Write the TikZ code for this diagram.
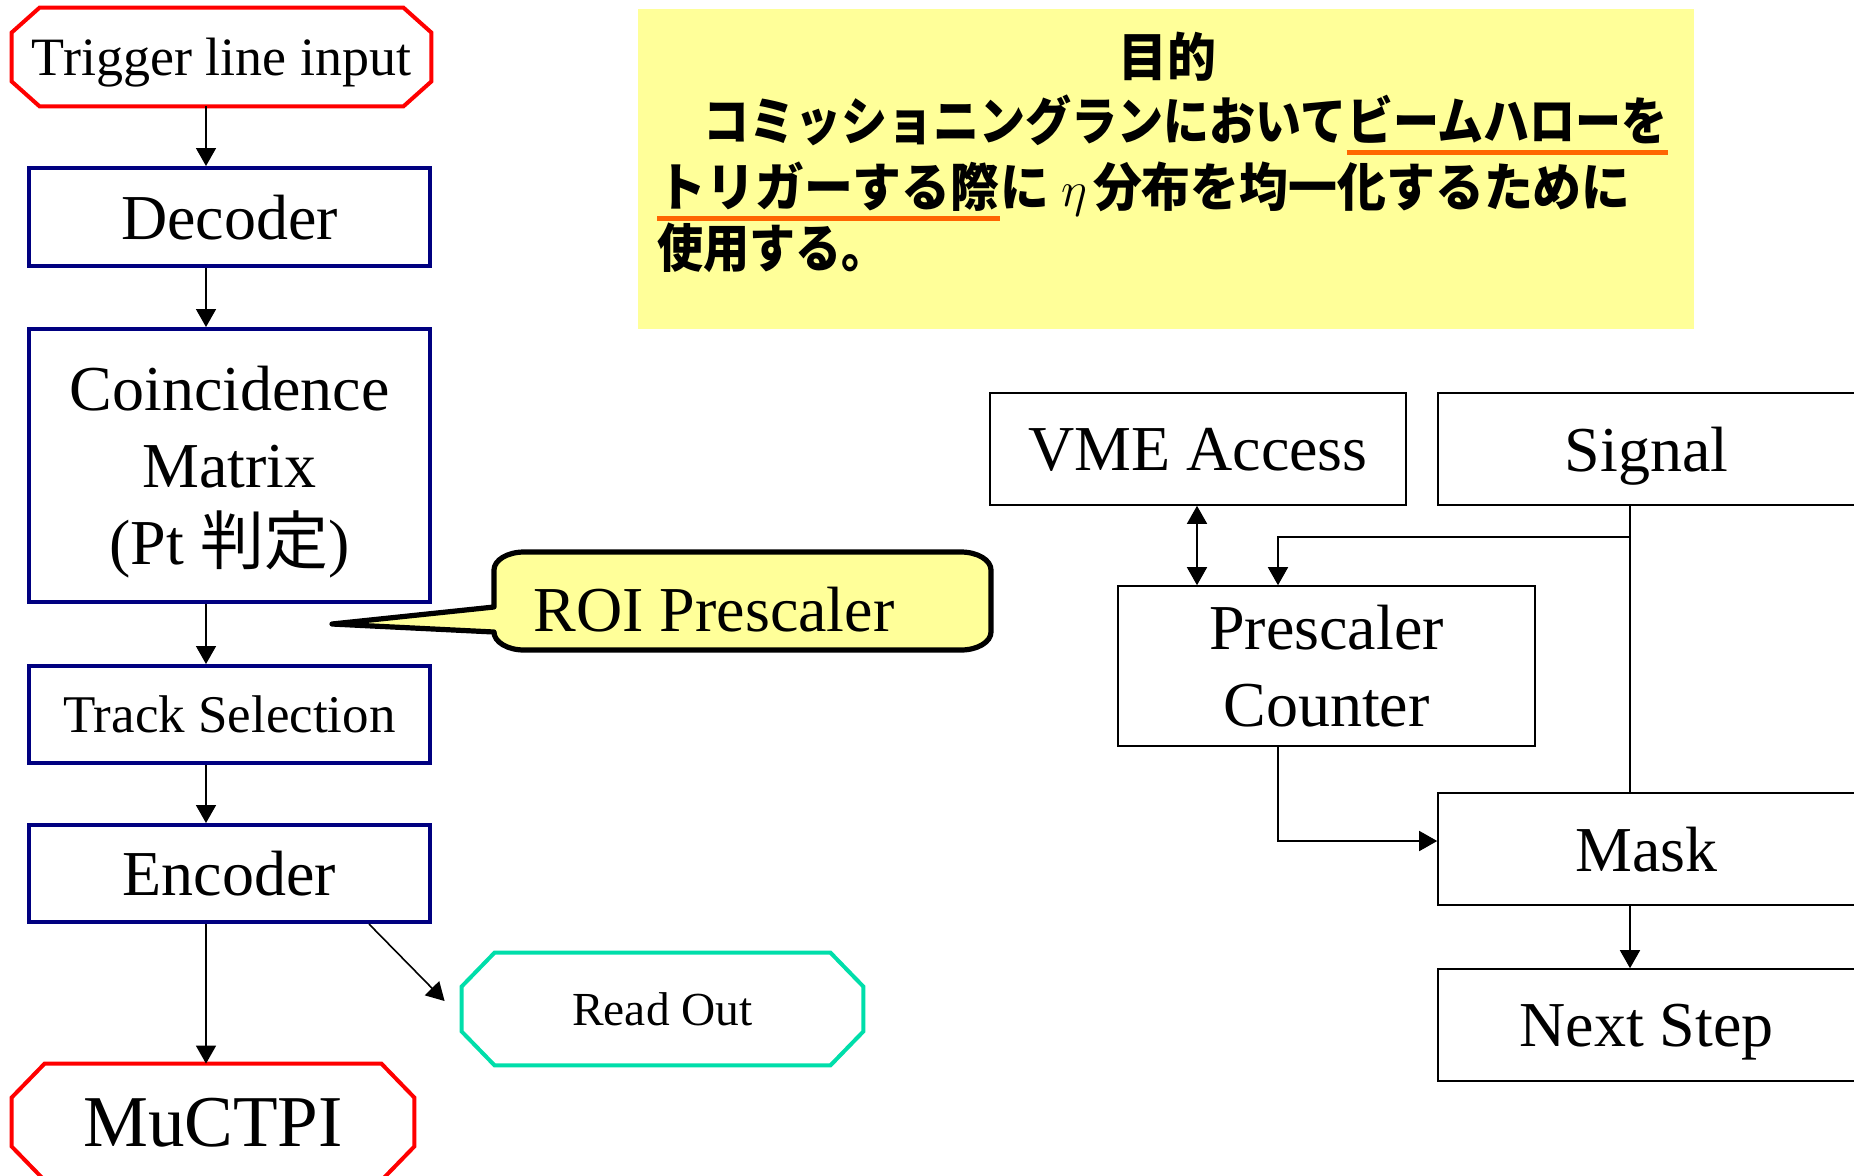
\documentclass[tikz,border=0pt]{standalone}
\usepackage{fontspec}
\setmainfont{Liberation Serif}
\newfontfamily\cjk{Noto Sans CJK JP}
\newfontfamily\cjka{Noto Sans CJK JP}[FakeStretch=0.885]
\newfontfamily\cjkb{Noto Sans CJK JP}[FakeStretch=0.94]
\usetikzlibrary{arrows.meta,calc}
\definecolor{navyb}{RGB}{0,0,128}
\definecolor{tealo}{RGB}{0,222,170}
\definecolor{paleyel}{RGB}{255,255,153}
\definecolor{uline}{RGB}{255,102,0}
\newcommand\octo[4]{%
  \draw[#2, line width=2pt] ([xshift=#3]#1.north west) -- ([xshift=-#3]#1.north east)
    -- ([yshift=-#4]#1.north east) -- ([yshift=#4]#1.south east)
    -- ([xshift=-#3]#1.south east) -- ([xshift=#3]#1.south west)
    -- ([yshift=#4]#1.south west) -- ([yshift=-#4]#1.north west) -- cycle;}
\begin{document}
\begin{tikzpicture}[x=0.5pt,y=-0.5pt,
  lbox/.style={draw=navyb, line width=2pt, minimum width=200.5pt, text depth=0pt, inner sep=0pt},
  rbox/.style={draw=black, line width=0.8pt, minimum width=208.5pt, minimum height=56pt,
    font=\fontsize{32}{38.5}\selectfont, text depth=0pt, inner sep=0pt},
  octbox/.style={inner sep=0pt, text depth=0pt},
  arr/.style={line width=0.8pt, -{Triangle[length=9pt,width=10pt]}},
  darr/.style={line width=0.8pt, {Triangle[length=9pt,width=10pt]}-{Triangle[length=9pt,width=10pt]}},
  cjkta/.style={font=\cjka\bfseries\fontsize{26}{30}\selectfont, inner sep=0pt, anchor=base west},
  cjktb/.style={font=\cjkb\bfseries\fontsize{26}{30}\selectfont, inner sep=0pt, anchor=base west}]
\useasboundingbox (0,0) rectangle (1854,1175);

% ---------- left column ----------
\node[octbox, minimum width=209.5pt, minimum height=49pt, font=\fontsize{27}{32}\selectfont] (trig) at (221.5,57) {Trigger line input};
\octo{trig}{red}{14pt}{12.5pt}
\node[lbox, minimum height=49pt, font=\fontsize{32}{38}\selectfont] (dec) at (229.5,217) {Decoder};
\node[lbox, minimum height=136.5pt, align=center, font=\fontsize{32}{38.5}\selectfont] (coin) at (229.5,465.5) {Coincidence\\Matrix\\(Pt {\cjk 判定})};
\node[lbox, minimum height=48.5pt, font=\fontsize{26.5}{32}\selectfont] (track) at (229.5,714.5) {Track Selection};
\node[lbox, minimum height=48.5pt, font=\fontsize{32}{38}\selectfont] (enc) at (229.5,873.5) {Encoder};
\node[octbox, minimum width=201pt, minimum height=58pt, font=\fontsize{36.5}{44}\selectfont] (muc) at (213,1122) {MuCTPI};
\octo{muc}{red}{16.5pt}{17pt}
\node[octbox, minimum width=200.5pt, minimum height=56pt, font=\fontsize{23.7}{28}\selectfont] (ro) at (662.5,1009) {Read Out};
\octo{ro}{tealo}{16.5pt}{17pt}

\coordinate (ax) at (206,0);
\draw[arr] (trig.south -| ax) -- (dec.north -| ax);
\draw[arr] (dec.south -| ax) -- (coin.north -| ax);
\draw[arr] (coin.south -| ax) -- (track.north -| ax);
\draw[arr] (track.south -| ax) -- (enc.north -| ax);
\draw[arr] (enc.south -| ax) -- (muc.north -| ax);
\draw[arr] ([xshift=-31.5pt]enc.south east) -- ([xshift=-8.5pt,yshift=4pt]ro.west);

% ---------- callout ----------
\filldraw[fill=paleyel, draw=black, line width=2.6pt, line join=round]
  (494,607) -- (494,570) arc[start angle=180, end angle=90, x radius=15pt, y radius=9pt]
  -- (961,552) arc[start angle=90, end angle=0, x radius=15pt, y radius=9pt]
  -- (991,632) arc[start angle=0, end angle=-90, x radius=15pt, y radius=9pt]
  -- (524,650) arc[start angle=-90, end angle=-180, x radius=15pt, y radius=9pt]
  -- (332,624) -- cycle;
\node[inner sep=0pt, text depth=0pt, font=\fontsize{32}{38}\selectfont] (roi) at (714,609) {ROI Prescaler};

% ---------- goal box ----------
\node[fill=paleyel, minimum width=528pt, minimum height=160pt, inner sep=0pt] (goal) at (1166,169) {};
\node[cjktb, anchor=base] (t1) at (1167,76) {目的};
\node[cjkta] (t2a) at (657,140) {　コミッショニングランにおいて};
\node[cjkta] (t2b) at (t2a.base east) {ビームハローを};
\node[cjktb] (t3a) at (657,206) {トリガーする際};
\node[cjktb] (t3b) at (t3a.base east) {に\hspace{6pt}$\eta$\hspace{3pt}分布を均一化するために};
\node[cjkta] (t4) at (657,267) {使用する。};
\draw[uline, line width=2.5pt] ([yshift=-6pt]t2b.base west) -- ([yshift=-6pt]t2b.base east);
\draw[uline, line width=2.5pt] ([yshift=-6pt]t3a.base west) -- ([yshift=-6pt]t3a.base east);

% ---------- right diagram ----------
\node[rbox, minimum width=208pt] (vme) at (1198,449) {VME Access};
\node[rbox] (sig) at (1646.5,449) {Signal};
\node[rbox, minimum height=80pt, align=center] (presc) at (1326.5,666) {Prescaler\\Counter};
\node[rbox] (mask) at (1646.5,849) {Mask};
\node[rbox] (next) at (1646.5,1025) {Next Step};

\coordinate (vx) at (1197,0);
\coordinate (sx) at (1630,0);
\coordinate (px) at (1278,0);
\coordinate (bj) at (1630,537);
\draw[darr] (vme.south -| vx) -- (presc.north -| vx);
\draw[line width=0.8pt] (sig.south -| sx) -- (mask.north -| sx);
\draw[arr] (bj) -| (presc.north -| px);
\draw[arr] (presc.south -| px) |- ([yshift=4pt]mask.west);
\draw[arr] (mask.south -| sx) -- (next.north -| sx);
\end{tikzpicture}
\end{document}
